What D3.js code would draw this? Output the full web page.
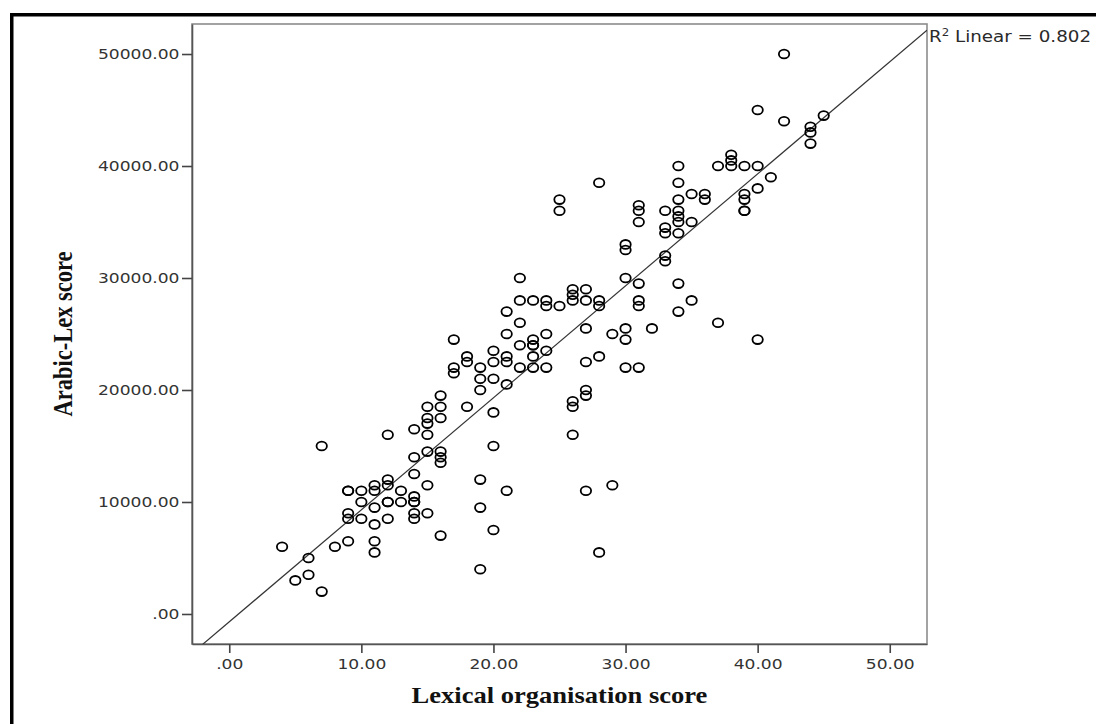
<!DOCTYPE html>
<html>
<head>
<meta charset="utf-8">
<script src="https://cdnjs.cloudflare.com/ajax/libs/d3/7.8.5/d3.min.js"></script>
<style>
  html, body { margin: 0; padding: 0; background: #fff; }
  svg { display: block; }
</style>
</head>
<body>
<svg id="chart" width="1096" height="724"></svg>
<script>
// Lexical organisation score (x) and Arabic-Lex score (y)
var lexicalScores = [
  4, 5, 6, 6, 7, 7, 8, 9, 9, 9, 9, 9, 10, 10, 10,
  11, 11, 11, 11, 11, 11, 12, 12, 12, 12, 12, 12, 13, 13,
  14, 14, 14, 14, 14, 14, 14, 14, 15, 15, 15, 15, 15, 15, 15,
  16, 16, 16, 16, 16, 16, 16, 17, 17, 17, 18, 18, 18,
  19, 19, 19, 19, 19, 19, 20, 20, 20, 20, 20, 20,
  21, 21, 21, 21, 21, 21, 22, 22, 22, 22, 22,
  23, 23, 23, 23, 23, 23, 24, 24, 24, 24, 24, 25, 25, 25,
  26, 26, 26, 26, 26, 26, 27, 27, 27, 27, 27, 27, 27,
  28, 28, 28, 28, 28, 29, 29, 30, 30, 30, 30, 30, 30,
  31, 31, 31, 31, 31, 31, 31, 32, 33, 33, 33, 33, 33,
  34, 34, 34, 34, 34, 34, 34, 34, 34, 35, 35, 35, 36, 36, 37, 37,
  38, 38, 38, 39, 39, 39, 39, 39, 40, 40, 40, 40, 41, 42, 42,
  44, 44, 44, 45
];
var arabicLexScores = [
  6000, 3000, 5000, 3500, 15000, 2000, 6000, 11000, 11000, 9000, 8500, 6500, 11000, 10000, 8500,
  11500, 11000, 9500, 8000, 6500, 5500, 16000, 12000, 11500, 10000, 10000, 8500, 11000, 10000,
  16500, 14000, 12500, 10500, 10000, 10000, 9000, 8500, 18500, 17500, 17000, 16000, 14500, 11500, 9000,
  19500, 18500, 17500, 14500, 14000, 13500, 7000, 24500, 22000, 21500, 23000, 22500, 18500,
  22000, 21000, 20000, 12000, 9500, 4000, 23500, 22500, 21000, 18000, 15000, 7500,
  27000, 25000, 23000, 22500, 20500, 11000, 30000, 28000, 26000, 24000, 22000,
  28000, 24500, 24000, 24000, 23000, 22000, 28000, 27500, 25000, 23500, 22000, 37000, 36000, 27500,
  29000, 28500, 28000, 19000, 18500, 16000, 29000, 28000, 25500, 22500, 20000, 19500, 11000,
  38500, 28000, 27500, 23000, 5500, 25000, 11500, 33000, 32500, 30000, 25500, 24500, 22000,
  36500, 36000, 35000, 29500, 28000, 27500, 22000, 25500, 36000, 34500, 34000, 32000, 31500,
  40000, 38500, 37000, 36000, 35500, 35000, 34000, 29500, 27000, 37500, 35000, 28000, 37500, 37000, 40000, 26000,
  41000, 40500, 40000, 40000, 37500, 37000, 36000, 36000, 45000, 40000, 38000, 24500, 39000, 50000, 44000,
  43500, 43000, 42000, 44500
];

var xTicks = [0, 10, 20, 30, 40, 50];
var yTicks = [0, 10000, 20000, 30000, 40000, 50000];
var xTitle = "Lexical organisation score";
var yTitle = "Arabic-Lex score";

// linear fit line as drawn in the chart
var fitSlope = 1000;
var fitIntercept = -700;
var fitLabel = "Linear = 0.802";

var svg = d3.select("#chart");
var PLOT = {left: 192, top: 24, right: 927, bottom: 644};
var SX = 1.18; // the original picture is stretched horizontally

var x = d3.scaleLinear().domain([-2.82, 52.82]).range([PLOT.left, PLOT.right]);
var y = d3.scaleLinear().domain([-2680, 52680]).range([PLOT.bottom, PLOT.top]);

function fmt(d) {
  var s = d3.format(".2f")(d);
  return s.charAt(0) === "0" ? s.slice(1) : s;
}

// outer black frame
svg.append("rect").attr("x", 10).attr("y", 13).attr("width", 1100).attr("height", 3.5).attr("fill", "#000");
svg.append("rect").attr("x", 10).attr("y", 13).attr("width", 3.5).attr("height", 720).attr("fill", "#000");

// plot box
svg.append("rect")
  .attr("x", PLOT.left).attr("y", PLOT.top)
  .attr("width", PLOT.right - PLOT.left).attr("height", PLOT.bottom - PLOT.top)
  .attr("fill", "none").attr("stroke", "#8c8c8c").attr("stroke-width", 1.6);

svg.append("clipPath").attr("id", "plotclip")
  .append("rect")
  .attr("x", PLOT.left).attr("y", PLOT.top)
  .attr("width", PLOT.right - PLOT.left).attr("height", PLOT.bottom - PLOT.top);

// axes
var yAxis = d3.axisLeft(y).tickValues(yTicks).tickFormat(fmt).tickSizeInner(10).tickSizeOuter(0);
var xAxis = d3.axisBottom(x).tickValues(xTicks).tickFormat(fmt).tickSizeInner(9).tickSizeOuter(0).tickPadding(6);

var gy = svg.append("g").attr("transform", "translate(" + PLOT.left + ",0)").call(yAxis);
var gx = svg.append("g").attr("transform", "translate(0," + PLOT.bottom + ")").call(xAxis);

[gx, gy].forEach(function (g) {
  g.select(".domain").attr("stroke", "#555").attr("stroke-width", 1.6);
  g.selectAll(".tick line").attr("stroke", "#444").attr("stroke-width", 1.6);
  g.selectAll(".tick text")
    .attr("fill", "#333")
    .attr("font-family", "'DejaVu Sans', sans-serif")
    .attr("font-size", 14.5);
});

gy.selectAll(".tick text")
  .attr("x", null)
  .attr("transform", "translate(-12.5,0) scale(" + SX + ",1)");
gx.selectAll(".tick text")
  .attr("y", null)
  .attr("transform", "translate(0,15) scale(" + SX + ",1)");

// fit line
var xd = x.domain();
svg.append("line")
  .attr("clip-path", "url(#plotclip)")
  .attr("x1", x(xd[0])).attr("y1", y(fitSlope * xd[0] + fitIntercept))
  .attr("x2", x(xd[1])).attr("y2", y(fitSlope * xd[1] + fitIntercept))
  .attr("stroke", "#333").attr("stroke-width", 1.2);

// points
var points = lexicalScores.map(function (v, i) { return {x: v, y: arabicLexScores[i]}; });
svg.append("g").selectAll("ellipse")
  .data(points)
  .enter().append("ellipse")
  .attr("cx", function (d) { return x(d.x); })
  .attr("cy", function (d) { return y(d.y); })
  .attr("rx", 5.2)
  .attr("ry", 4.4)
  .attr("fill", "none")
  .attr("stroke", "#000")
  .attr("stroke-width", 1.8);

// R2 label
var lab = svg.append("text")
  .attr("transform", "translate(929,42) scale(" + SX + ",1)")
  .attr("font-family", "'DejaVu Sans', sans-serif")
  .attr("font-size", 15.5)
  .attr("fill", "#2a2a2a");
lab.append("tspan").text("R");
lab.append("tspan").attr("dy", -6).attr("font-size", 10).text("2");
lab.append("tspan").attr("dy", 6).text(" " + fitLabel);

// axis titles
svg.append("text")
  .attr("transform", "translate(" + ((PLOT.left + PLOT.right) / 2) + ",703) scale(" + SX + ",1)")
  .attr("text-anchor", "middle")
  .attr("font-family", "'Liberation Serif', 'Times New Roman', serif")
  .attr("font-weight", "bold")
  .attr("font-size", 22.5)
  .attr("fill", "#111")
  .text(xTitle);

svg.append("text")
  .attr("transform", "translate(71.5," + ((PLOT.top + PLOT.bottom) / 2) + ") scale(" + SX + ",1) rotate(-90)")
  .attr("text-anchor", "middle")
  .attr("font-family", "'Liberation Serif', 'Times New Roman', serif")
  .attr("font-weight", "bold")
  .attr("font-size", 22.5)
  .attr("fill", "#111")
  .text(yTitle);
</script>
</body>
</html>
